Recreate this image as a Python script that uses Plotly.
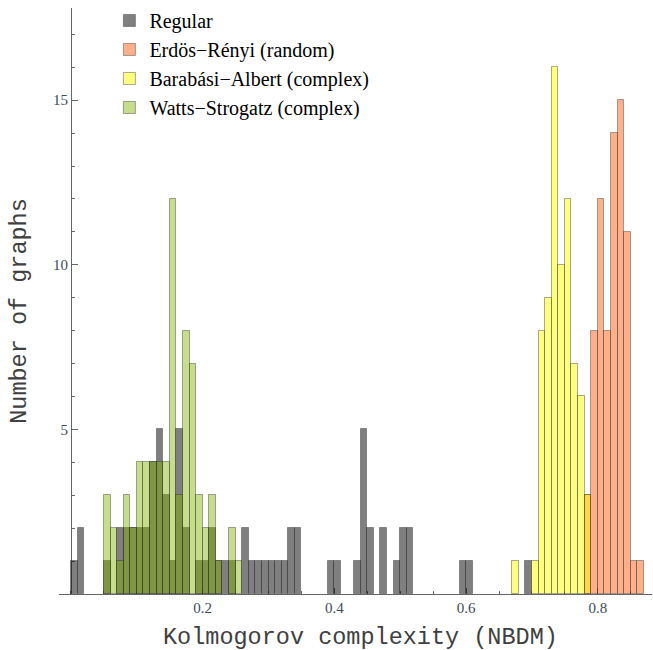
import plotly.graph_objects as go

# Histogram bins (left edges, bin width 0.01) and counts
BIN_WIDTH = 0.01

regular_bins = [0.00, 0.01, 0.05, 0.07, 0.08, 0.09, 0.10, 0.11, 0.12, 0.13, 0.14,
                0.15, 0.16, 0.17, 0.19, 0.20, 0.21, 0.22, 0.23, 0.24, 0.26, 0.27,
                0.28, 0.29, 0.30, 0.31, 0.32, 0.33, 0.34, 0.39, 0.40, 0.43, 0.44,
                0.45, 0.47, 0.49, 0.50, 0.51, 0.59, 0.60, 0.69]
regular_counts = [1, 2, 1, 2, 2, 2, 2, 2, 4, 5, 3,
                  1, 5, 2, 1, 1, 2, 1, 1, 1, 2, 1,
                  1, 1, 1, 1, 1, 2, 2, 1, 1, 1, 5,
                  2, 2, 1, 2, 2, 1, 1, 1]

er_bins = [0.78, 0.79, 0.80, 0.81, 0.82, 0.83, 0.84, 0.85, 0.86]
er_counts = [3, 8, 12, 8, 14, 15, 11, 1, 1]

ba_bins = [0.67, 0.70, 0.71, 0.72, 0.73, 0.74, 0.75, 0.76, 0.77, 0.78]
ba_counts = [1, 1, 8, 9, 16, 10, 12, 7, 6, 3]

ws_bins = [0.05, 0.06, 0.07, 0.08, 0.09, 0.10, 0.11, 0.12, 0.13, 0.14,
           0.15, 0.16, 0.17, 0.18, 0.19, 0.20, 0.21, 0.22, 0.24, 0.25]
ws_counts = [3, 2, 1, 3, 2, 4, 4, 4, 4, 4,
             12, 3, 8, 7, 3, 2, 3, 1, 2, 1]

series_names = ["Regular", "Erdös\u2212Rényi (random)",
                "Barabási\u2212Albert (complex)", "Watts\u2212Strogatz (complex)"]
x_tickvals = [0.2, 0.4, 0.6, 0.8]
x_ticktext = ["0.2", "0.4", "0.6", "0.8"]
y_tickvals = [5, 10, 15]
y_ticktext = ["5", "10", "15"]

fills = ["rgba(0,0,0,0.5)", "rgba(255,95,20,0.5)",
         "rgba(255,255,0,0.5)", "rgba(128,180,0,0.45)"]
edge = dict(color="rgba(40,40,40,0.4)", width=1)

fig = go.Figure()
for name, bins, counts, col in zip(series_names,
                                   [regular_bins, er_bins, ba_bins, ws_bins],
                                   [regular_counts, er_counts, ba_counts, ws_counts],
                                   fills):
    fig.add_trace(go.Bar(x=bins, y=counts, width=BIN_WIDTH, offset=0, name=name,
                         marker=dict(color=col, line=edge)))

tick_font = dict(family="Liberation Serif", size=15, color="#3e4b5c")
title_font = dict(family="Liberation Mono", size=23.5, color="#404040")

fig.update_layout(
    width=653, height=650,
    margin=dict(l=59, r=1, t=8, b=56),
    plot_bgcolor="white", paper_bgcolor="white",
    barmode="overlay", bargap=0,
    showlegend=True,
    legend=dict(x=0.085, y=1.012, xanchor="left", yanchor="top",
                font=dict(family="Liberation Serif", size=20, color="black"),
                bgcolor="rgba(0,0,0,0)", traceorder="normal"),
    xaxis=dict(range=[-0.0182, 0.8823], showgrid=False, zeroline=False,
               showline=True, linecolor="#666666", linewidth=1,
               tickvals=x_tickvals, ticktext=x_ticktext, ticks="inside",
               ticklen=6, tickcolor="#666666", tickfont=tick_font,
               minor=dict(tick0=0, dtick=0.05, ticks="inside", ticklen=3,
                          tickcolor="#666666"),
               layer="below traces"),
    yaxis=dict(range=[0, 17.8], showgrid=False, zeroline=False,
               anchor="free", position=0.0202,
               showline=True, linecolor="#666666", linewidth=1,
               tickvals=y_tickvals, ticktext=y_ticktext, ticks="inside",
               ticklen=6, tickcolor="#666666", tickfont=tick_font,
               minor=dict(tick0=0, dtick=1, ticks="inside", ticklen=3,
                          tickcolor="#666666"),
               layer="below traces"),
    annotations=[
        dict(text="Kolmogorov complexity (NBDM)", xref="paper", yref="paper",
             x=0.509, y=-0.075, xanchor="center", yanchor="middle",
             showarrow=False, font=title_font),
        dict(text="Number of graphs", xref="paper", yref="paper",
             x=-0.066, y=0.483, xanchor="center", yanchor="middle",
             textangle=-90, showarrow=False, font=title_font),
    ],
)

fig.write_html("out.html",
               config={"displayModeBar": False},
               post_script="document.body.style.margin='0';"
                           "document.body.style.overflow='hidden';")
